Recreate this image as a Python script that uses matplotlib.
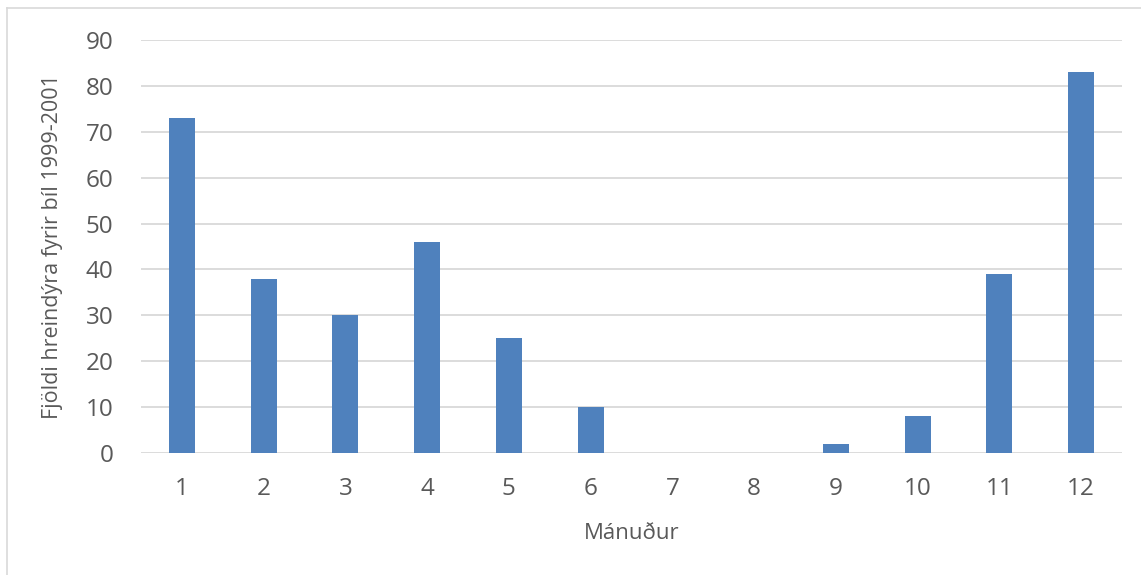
import matplotlib.pyplot as plt
from matplotlib.lines import Line2D

# Monthly counts, 1999-2001
months = ["1", "2", "3", "4", "5", "6", "7", "8", "9", "10", "11", "12"]
counts = [73, 38, 30, 46, 25, 10, 0, 0, 2, 8, 39, 83]
yticks = [0, 10, 20, 30, 40, 50, 60, 70, 80, 90]

bar_color = "#4f81bd"
text_color = "#595959"
grid_color = "#d9d9d9"

plt.rcParams["font.family"] = ["Open Sans", "DejaVu Sans"]

fig = plt.figure(figsize=(11.41, 5.75), dpi=100)
ax = fig.add_axes([0.1236, 0.2122, 0.9833 - 0.1236, 0.9304 - 0.2122])

x = range(len(months))
ax.bar(x, counts, width=0.32, color=bar_color, zorder=3)

ax.set_xlim(-0.5, len(months) - 0.5)
ax.set_ylim(0, 90)
ax.set_yticks(yticks)
ax.set_xticks(list(x))
ax.set_xticklabels(months)

ax.grid(axis="y", color=grid_color, linewidth=1.3, zorder=0)
for s in ax.spines.values():
    s.set_visible(False)
ax.tick_params(axis="both", length=0, labelsize=17.5, colors=text_color)
ax.tick_params(axis="x", pad=17)
ax.tick_params(axis="y", pad=20)

ax.set_xlabel("Mánuður", fontsize=16, color=text_color, labelpad=16)
ax.set_ylabel("Fjöldi hreindýra fyrir bíl 1999-2001", fontsize=15.5,
              color=text_color, labelpad=16)

# chart-area border (top and left edges)
fig.add_artist(Line2D([7 / 1141, 1.0], [1 - 8 / 575, 1 - 8 / 575],
                      transform=fig.transFigure, color=grid_color, linewidth=1.2))
fig.add_artist(Line2D([7 / 1141, 7 / 1141], [0.0, 1 - 8 / 575],
                      transform=fig.transFigure, color=grid_color, linewidth=1.2))

fig.savefig("out.png", dpi=100)
